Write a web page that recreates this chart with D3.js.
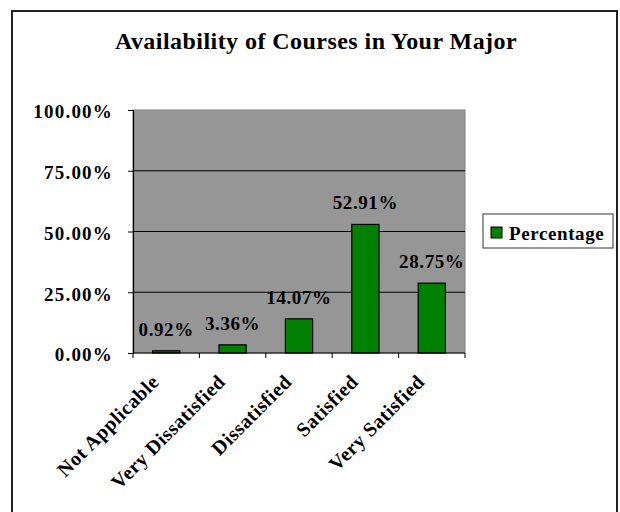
<!DOCTYPE html>
<html>
<head>
<meta charset="utf-8">
<script src="https://cdn.jsdelivr.net/npm/d3@7"></script>
<style>
  body { margin: 0; background: #fff; }
  text { font-family: "Liberation Serif", "Times New Roman", serif; font-weight: bold; fill: #000; }
</style>
</head>
<body>
<div id="chart"></div>
<script>
// =======================
// Data
// =======================
const categories = ["Not Applicable", "Very Dissatisfied", "Dissatisfied", "Satisfied", "Very Satisfied"];
const percentages = [0.92, 3.36, 14.07, 52.91, 28.75];
const yTicks = [0, 25, 50, 75, 100];
const seriesName = "Percentage";
const title = "Availability of Courses in Your Major";

// =======================
// SVG
// =======================
const width = 620, height = 512;
const svg = d3.select("#chart").append("svg")
    .attr("width", width)
    .attr("height", height);

// chart frame
svg.append("rect")
    .attr("x", 12).attr("y", 11)
    .attr("width", 605).attr("height", 520)
    .attr("fill", "#fff")
    .attr("stroke", "#222")
    .attr("stroke-width", 2);

svg.append("text")
    .attr("x", 316).attr("y", 49)
    .attr("text-anchor", "middle")
    .style("font-size", "24px")
    .style("letter-spacing", "0.45px")
    .text(title);

// =======================
// Scales
// =======================
const plot = { left: 133, right: 465, top: 110, bottom: 353 };

const x = d3.scaleBand()
    .domain(categories)
    .range([plot.left, plot.right])
    .paddingInner(0.59)
    .paddingOuter(0.295);

const y = d3.scaleLinear()
    .domain([0, 100])
    .range([plot.bottom, plot.top]);

// plot background
svg.append("rect")
    .attr("x", plot.left).attr("y", plot.top)
    .attr("width", plot.right - plot.left)
    .attr("height", plot.bottom - plot.top)
    .attr("fill", "#969696")
    .attr("stroke", "#808080")
    .attr("stroke-width", 1);

// gridlines
svg.append("g")
    .selectAll("line")
    .data(yTicks.filter(t => t > 0 && t < 100))
    .enter()
    .append("line")
    .attr("x1", plot.left).attr("x2", plot.right)
    .attr("y1", d => y(d)).attr("y2", d => y(d))
    .attr("stroke", "#000")
    .attr("stroke-width", 1);

// =======================
// Bars
// =======================
svg.append("g")
    .selectAll("rect")
    .data(percentages)
    .enter()
    .append("rect")
    .attr("x", (d, i) => x(categories[i]))
    .attr("y", d => y(d))
    .attr("width", x.bandwidth())
    .attr("height", d => y(0) - y(d))
    .attr("fill", "#008000")
    .attr("stroke", "#000")
    .attr("stroke-width", 1.2);

// value labels
svg.append("g")
    .selectAll("text")
    .data(percentages)
    .enter()
    .append("text")
    .attr("x", (d, i) => x(categories[i]) + x.bandwidth() / 2)
    .attr("y", d => y(d) - 15)
    .attr("text-anchor", "middle")
    .style("font-size", "19px")
    .style("letter-spacing", "0.6px")
    .text(d => d.toFixed(2) + "%");

// =======================
// Axes
// =======================
const yAxis = d3.axisLeft(y)
    .tickValues(yTicks)
    .tickSize(5)
    .tickFormat(d => d.toFixed(2) + "%");

const yG = svg.append("g")
    .attr("transform", `translate(${plot.left},0)`)
    .call(yAxis);
yG.select(".domain").attr("stroke", "#000").attr("stroke-width", 1.2);
yG.selectAll(".tick line").attr("stroke", "#000");
yG.selectAll(".tick text")
    .attr("x", -20)
    .attr("dy", "0.42em")
    .style("font-size", "19px")
    .style("letter-spacing", "1.2px");

// x axis: line with ticks at category boundaries
const boundaries = categories.map(c => x(c) - x.step() * x.paddingInner() / 2)
    .concat([plot.right]);

svg.append("line")
    .attr("x1", plot.left).attr("x2", plot.right)
    .attr("y1", plot.bottom).attr("y2", plot.bottom)
    .attr("stroke", "#000")
    .attr("stroke-width", 1.2);

svg.append("g")
    .selectAll("line")
    .data(boundaries)
    .enter()
    .append("line")
    .attr("x1", d => d).attr("x2", d => d)
    .attr("y1", plot.bottom).attr("y2", plot.bottom + 5)
    .attr("stroke", "#000");

svg.append("g")
    .selectAll("text")
    .data(categories)
    .enter()
    .append("text")
    .attr("transform", d => `translate(${x(d) + x.bandwidth() / 2 - 6},383) rotate(-45)`)
    .attr("text-anchor", "end")
    .style("font-size", "20px")
    .style("letter-spacing", "0.5px")
    .text(d => d);

// =======================
// Legend
// =======================
const legend = svg.append("g").attr("transform", "translate(483,214)");
legend.append("rect")
    .attr("width", 130).attr("height", 34)
    .attr("fill", "#fff")
    .attr("stroke", "#333")
    .attr("stroke-width", 1);
legend.append("rect")
    .attr("x", 8).attr("y", 13)
    .attr("width", 11).attr("height", 11)
    .attr("fill", "#008000")
    .attr("stroke", "#000");
legend.append("text")
    .attr("x", 26).attr("y", 26)
    .style("font-size", "19px")
    .style("letter-spacing", "0.6px")
    .text(seriesName);
</script>
</body>
</html>
